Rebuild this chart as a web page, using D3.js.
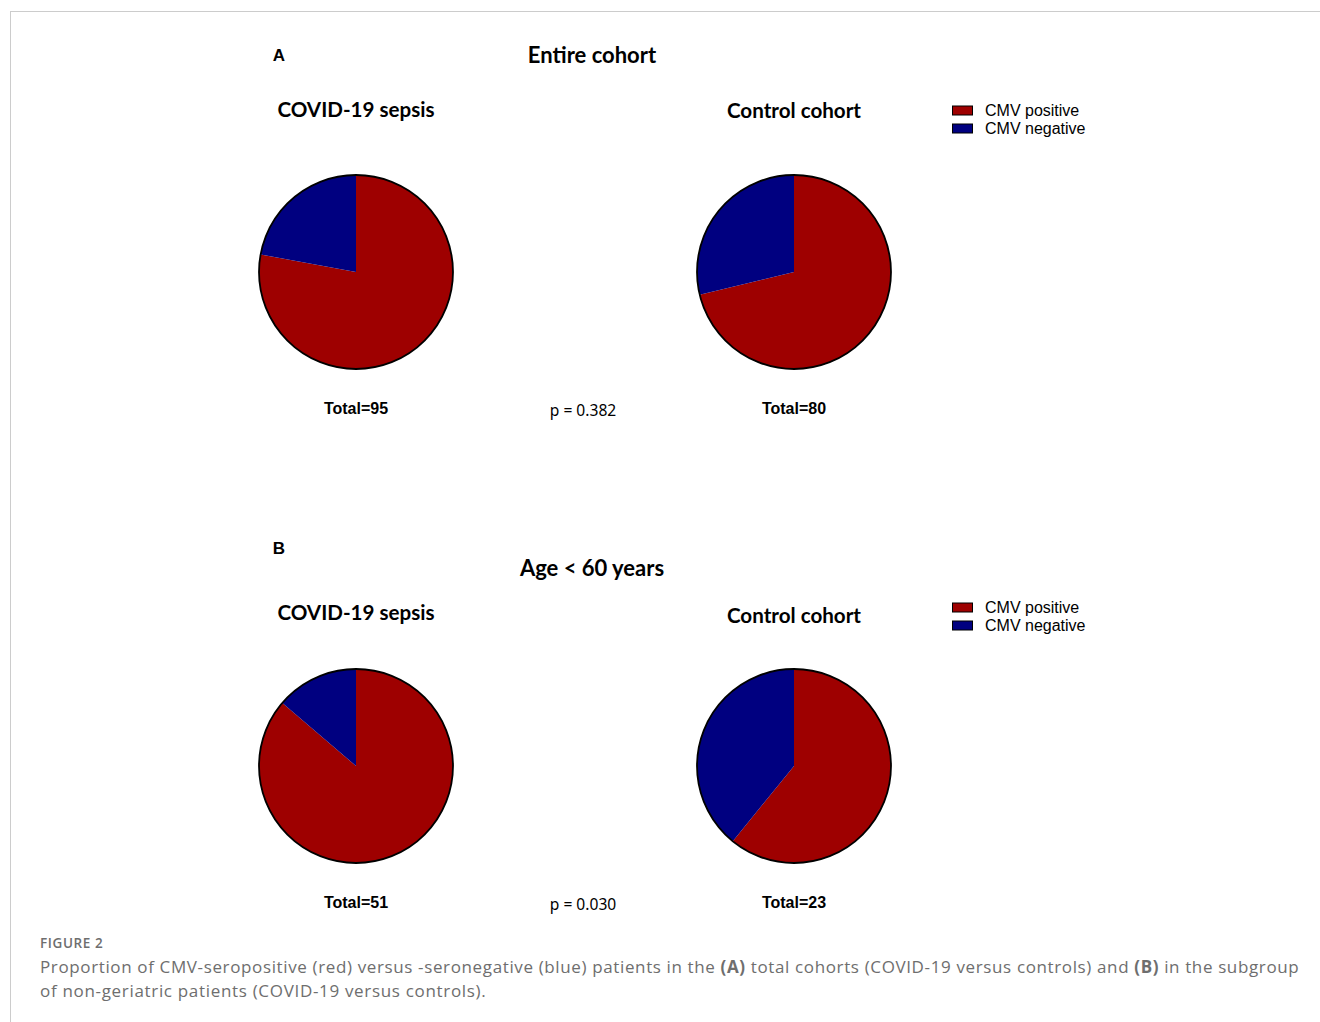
<!DOCTYPE html>
<html><head><meta charset="utf-8">
<script src="https://cdn.jsdelivr.net/npm/d3@7"></script>
<style>
html,body{margin:0;padding:0;background:#fff;}
svg{display:block;}
</style></head>
<body>
<svg id="chart" width="1320" height="1022"></svg>
<script>
// ---- data ----
const panelLetters = ["A", "B"];
const panelTitles = ["Entire cohort", "Age < 60 years"];
const groups = ["COVID-19 sepsis", "Control cohort"];
const categories = ["CMV positive", "CMV negative"];
const cmvPositive = [[74, 57], [44, 14]];
const cmvNegative = [[21, 23], [7, 9]];
const pValues = ["0.382", "0.030"];
const captionLabel = "FIGURE 2";

const colors = d3.scaleOrdinal().domain(categories).range(["#9e0000", "#000080"]);

const svg = d3.select("#chart");

// frame
svg.append("line").attr("x1", 10).attr("x2", 1320).attr("y1", 11.5).attr("y2", 11.5).attr("stroke", "#cccccc").attr("stroke-width", 1);
svg.append("line").attr("x1", 10.5).attr("x2", 10.5).attr("y1", 11).attr("y2", 1022).attr("stroke", "#cccccc").attr("stroke-width", 1);

const titleFont = "Lato, 'Open Sans', sans-serif";
const arialFont = "'Liberation Sans', Arial, sans-serif";

const groupX = d3.scalePoint().domain(groups).range([356, 794]);
const panelY = d3.scalePoint().domain(panelLetters).range([0, 494]);

const radius = 97;
const pie = d3.pie().sort(null).value(d => d.value);
const arc = d3.arc().innerRadius(0).outerRadius(radius);

panelLetters.forEach((letter, pi) => {
  const oy = panelY(letter);
  const g = svg.append("g").attr("transform", `translate(0,${oy})`);
  const extra = pi === 1 ? 19 : 0;

  g.append("text").attr("x", 279).attr("y", 61 - (pi === 1 ? 1 : 0))
    .attr("text-anchor", "middle").attr("font-family", arialFont).attr("font-weight", "bold")
    .attr("font-size", 17).text(letter);

  g.append("text").attr("x", 592).attr("y", 63 + extra)
    .attr("text-anchor", "middle").attr("font-family", titleFont).attr("font-weight", "bold")
    .attr("font-size", 22).text(panelTitles[pi]);

  groups.forEach((grp, gi) => {
    const cx = groupX(grp);
    g.append("text").attr("x", cx).attr("y", (gi === 0 ? 117 : 118) + (pi === 1 ? (gi === 0 ? 9 : 11) : 0))
      .attr("text-anchor", "middle").attr("font-family", titleFont).attr("font-weight", "bold")
      .attr("font-size", 20.6).text(grp);

    const data = [
      {key: categories[0], value: cmvPositive[pi][gi]},
      {key: categories[1], value: cmvNegative[pi][gi]}
    ];
    const pg = g.append("g").attr("transform", `translate(${cx},272)`);
    pg.selectAll("path.slice").data(pie(data)).join("path").attr("class", "slice")
      .attr("d", arc).attr("fill", d => colors(d.data.key));
    pg.append("circle").attr("r", radius).attr("fill", "none").attr("stroke", "#000").attr("stroke-width", 1.8);

    const total = cmvPositive[pi][gi] + cmvNegative[pi][gi];
    g.append("text").attr("x", cx).attr("y", 413.5)
      .attr("text-anchor", "middle").attr("font-family", arialFont).attr("font-weight", "bold")
      .attr("font-size", 16).text("Total=" + total);
  });

  g.append("text").attr("x", 583).attr("y", 416)
    .attr("text-anchor", "middle").attr("font-family", "'Noto Sans', 'Open Sans', sans-serif")
    .attr("font-size", 15.6).text("p = " + pValues[pi]);

  // legend
  const lg = g.append("g").attr("transform", `translate(952,${pi === 1 ? 3 : 0})`);
  categories.forEach((c, ci) => {
    lg.append("rect").attr("x", 0.5).attr("y", 106 + ci * 18).attr("width", 20).attr("height", 9)
      .attr("fill", colors(c)).attr("stroke", "#000").attr("stroke-width", 1);
    lg.append("text").attr("x", 33).attr("y", 116 + ci * 18)
      .attr("font-family", arialFont).attr("font-size", 16).attr("fill", "#000").text(c);
  });
});

// caption
const capFont = "'Open Sans', 'Noto Sans', sans-serif";
svg.append("text").attr("x", 40).attr("y", 948).attr("font-family", capFont).attr("font-weight", 600)
  .attr("font-size", 13.5).attr("letter-spacing", 0.6).attr("fill", "#6e6e6e").text(captionLabel);

const capLine1 = [
  {t: "Proportion of CMV-seropositive (red) versus -seronegative (blue) patients in the ", b: false},
  {t: "(A)", b: true},
  {t: " total cohorts (COVID-19 versus controls) and ", b: false},
  {t: "(B)", b: true},
  {t: " in the subgroup", b: false}
];
const t1 = svg.append("text").attr("x", 40).attr("y", 973).attr("font-family", capFont)
  .attr("font-size", 17).attr("letter-spacing", 0.63).attr("fill", "#6e6e6e");
capLine1.forEach(s => t1.append("tspan").attr("font-weight", s.b ? 700 : 400).text(s.t));
svg.append("text").attr("x", 40).attr("y", 997).attr("font-family", capFont)
  .attr("font-size", 17).attr("letter-spacing", 0.68).attr("fill", "#6e6e6e").text("of non-geriatric patients (COVID-19 versus controls).");
</script>
</body></html>
